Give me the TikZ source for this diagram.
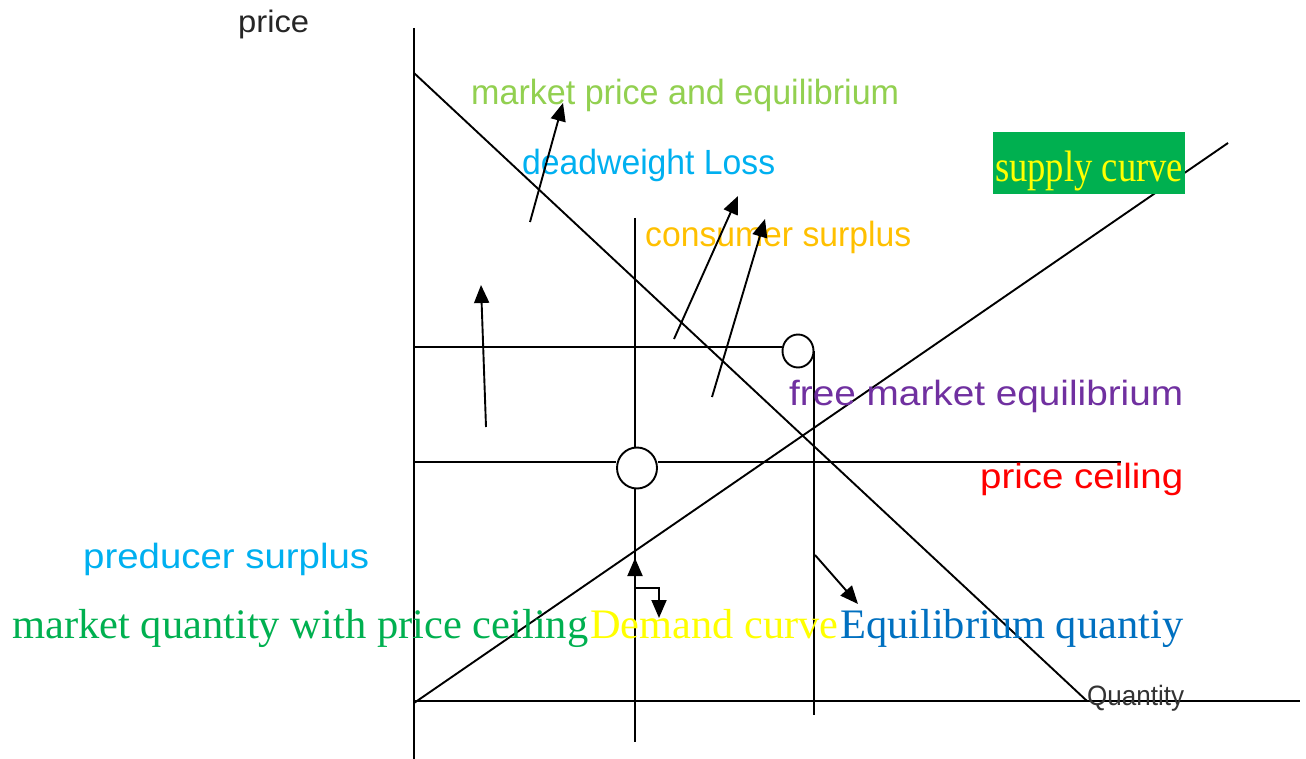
\documentclass[tikz,border=0pt]{standalone}
\usepackage{fontspec}
\setmainfont{Liberation Serif}
\setsansfont{Liberation Sans}
\usetikzlibrary{arrows.meta,shapes.geometric}
\newcommand\fitw[2]{\resizebox{#1}{\height}{#2}}
\definecolor{lgreen}{HTML}{92D050}
\definecolor{skyblue}{HTML}{00B0F0}
\definecolor{orangey}{HTML}{FFC000}
\definecolor{purp}{HTML}{7030A0}
\definecolor{sgreen}{HTML}{00B050}
\definecolor{yell}{HTML}{FFFF00}
\definecolor{dblue}{HTML}{0070C0}
\begin{document}
\begin{tikzpicture}[x=1pt,y=-1pt,
  ln/.style={line width=1.9pt},
  tip/.tip={Triangle[length=18pt,width=15pt]},
  arr/.style={line width=1.9pt,-tip},
  sanslab/.style={anchor=base west,inner sep=0pt,font=\sffamily\fontsize{35}{35}\selectfont},
  seriflab/.style={anchor=base west,inner sep=0pt,font=\rmfamily\fontsize{42}{42}\selectfont},
  ring/.style={draw,line width=1.9pt,ellipse,inner sep=0pt,fill=white}]
\useasboundingbox[fill=white] (0,0) rectangle (1306,759);
% axes
\coordinate (ytop) at (414,28);
\coordinate (ybot) at (414,759);
\coordinate (origin) at (414,701);
\coordinate (xend) at (1300,701);
\draw[ln] (ytop) -- (ybot);
\draw[ln] (origin) -- (xend);
% demand and supply
\coordinate (d0) at (414,73);
\coordinate (d1) at (1087,701);
\coordinate (s0) at (414,703);
\coordinate (s1) at (1228,143);
\draw[ln] (d0) -- (d1);
\draw[ln] (s0) -- (s1);
% circles
\node[ring,minimum width=31pt,minimum height=33pt] (c1) at (798,351) {};
\node[ring,minimum width=40pt,minimum height=41pt] (c2) at (637,468) {};
% equilibrium lines
\coordinate (h1a) at (414,347);
\draw[ln] (h1a) -- (c1.west |- h1a);
\coordinate (v1b) at (814,715);
\draw[ln] (v1b |- c1.east) -- (v1b);
% price ceiling lines
\coordinate (h2a) at (414,462);
\coordinate (h2b) at (1121,462);
\draw[ln] (h2a) -- (c2.west |- h2a);
\draw[ln] (c2.east |- h2a) -- (h2b);
\coordinate (v2a) at (635,218);
\coordinate (v2b) at (635,742);
\draw[ln] (v2a) -- (c2.north -| v2a);
\draw[ln] (c2.south -| v2a) -- (v2b);
% labels
\node[sanslab,text=black!85] (price) at (238,33) {\fitw{71pt}{\fontsize{31}{31}\selectfont price}};
\node[sanslab,text=lgreen] (mpe) at (471,105) {\fitw{428pt}{market price and equilibrium}};
\node[sanslab,text=skyblue] (dwl) at (522,175) {\fitw{253pt}{deadweight Loss}};
\node[sanslab,text=orangey] (cs) at (645,247) {\fitw{266pt}{consumer surplus}};
\node[sanslab,text=purp] (fme) at (789,405) {\fitw{394pt}{free market equilibrium}};
\node[sanslab,text=red] (pc) at (980,488) {\fitw{203pt}{price ceiling}};
\node[sanslab,text=skyblue] (ps) at (83,568) {\fitw{286pt}{preducer surplus}};
\node[sanslab,text=black!80] (qty) at (1087,705) {\fitw{97pt}{\fontsize{28}{28}\selectfont Quantity}};
\node[fill=sgreen,text=yell,inner sep=0pt,minimum width=192pt,minimum height=62pt,
  text height=36pt,text depth=0pt,
  font=\rmfamily\fontsize{44}{44}\selectfont] (sc) at (1089,163.5) {\fitw{188pt}{supply curve}};
\node[seriflab,text=sgreen] (mq) at (12,638) {\fitw{576pt}{market quantity with price ceiling}};
\node[seriflab,text=yell] (dc) at (590,638) {\fitw{248pt}{Demand curve}};
\node[seriflab,text=dblue] (eq) at (840,638) {\fitw{343pt}{Equilibrium quantiy}};
% arrows
\coordinate (a1s) at (530,222); \coordinate (a1e) at (563,103);
\coordinate (a2s) at (486,427); \coordinate (a2e) at (481,285);
\coordinate (a3s) at (674,339); \coordinate (a3e) at (738,196);
\coordinate (a4s) at (712,397); \coordinate (a4e) at (765,219);
\coordinate (a5s) at (815,555); \coordinate (a5e) at (858,604);
\draw[arr] (a1s) -- (a1e);
\draw[arr] (a2s) -- (a2e);
\draw[arr] (a3s) -- (a3e);
\draw[arr] (a4s) -- (a4e);
\draw[arr] (a5s) -- (a5e);
\coordinate (e1) at (635,558);
\coordinate (ec) at (635,588);
\coordinate (e2) at (659,618);
\draw[line width=1.9pt,tip-tip] (e1) -- (ec) -| (e2);
\end{tikzpicture}
\end{document}
